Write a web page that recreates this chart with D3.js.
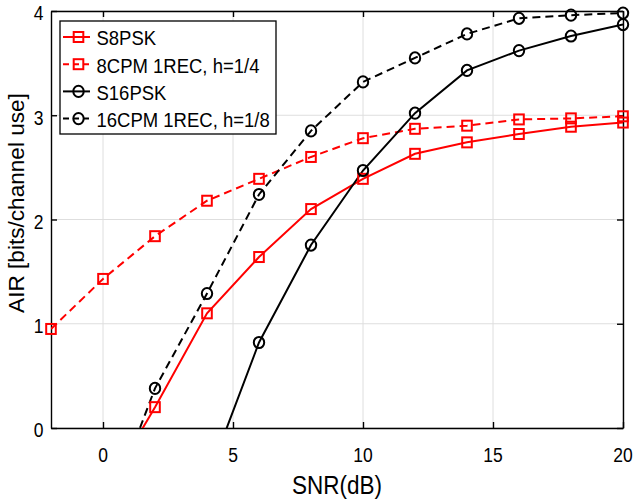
<!DOCTYPE html>
<html><head><meta charset="utf-8">
<script src="https://cdn.jsdelivr.net/npm/d3@7"></script>
<style>body{margin:0;background:#fff}svg{display:block}text{font-family:"Liberation Sans",Arial,sans-serif}</style>
</head><body>
<script>
const snrS8 = [0, 2, 4, 6, 8, 10, 12, 14, 16, 18, 20];
const airS8PSK = [-0.65, 0.20, 1.10, 1.64, 2.10, 2.39, 2.63, 2.74, 2.82, 2.89, 2.93];
const snrCPM8 = [-2, 0, 2, 4, 6, 8, 10, 12, 14, 16, 18, 20];
const airCPM8 = [0.95, 1.43, 1.84, 2.18, 2.39, 2.60, 2.78, 2.87, 2.90, 2.96, 2.97, 2.99];
const snrS16 = [4, 6, 8, 10, 12, 14, 16, 18, 20];
const airS16PSK = [-0.50, 0.82, 1.755, 2.47, 3.02, 3.43, 3.62, 3.76, 3.87];
const snrCPM16 = [0, 2, 4, 6, 8, 10, 12, 14, 16, 18, 20];
const airCPM16 = [-0.93, 0.38, 1.29, 2.24, 2.85, 3.32, 3.55, 3.78, 3.93, 3.96, 3.98];
const seriesNames = ["S8PSK", "8CPM 1REC, h=1/4", "S16PSK", "16CPM 1REC, h=1/8"];
const xTicks = [0, 5, 10, 15, 20];
const yTicks = [0, 1, 2, 3, 4];

const W = 635, H = 502;
const m = {left: 51, right: 12, top: 11, bottom: 74};
const svg = d3.select("body").append("svg").attr("width", W).attr("height", H);
const x = d3.scaleLinear().domain([-2, 20]).range([m.left, W - m.right]);
const y = d3.scaleLinear().domain([0, 4]).range([H - m.bottom, m.top]);

function stxt(g, tx, ty, str, size, anchor, sy, rot) {
  return g.append("text")
    .attr("transform", `translate(${tx},${ty})${rot ? ` rotate(${rot})` : ""} scale(1,${sy})`)
    .attr("text-anchor", anchor).attr("font-size", size).attr("fill", "#000").text(str);
}

svg.append("defs").append("clipPath").attr("id", "clip")
  .append("rect").attr("x", m.left).attr("y", m.top)
  .attr("width", x.range()[1] - m.left).attr("height", y(0) - m.top);

// grid
const grid = svg.append("g");
grid.selectAll("line.gx").data(xTicks).join("line")
  .attr("x1", d => x(d)).attr("x2", d => x(d)).attr("y1", y(0)).attr("y2", y(4))
  .attr("stroke", "#dedede").attr("stroke-width", 1);
grid.selectAll("line.gy").data(yTicks).join("line")
  .attr("y1", d => y(d)).attr("y2", d => y(d)).attr("x1", x(-2)).attr("x2", x(20))
  .attr("stroke", "#dedede").attr("stroke-width", 1);

// axes (inward ticks on all four sides)
const tickLen = 6;
const xb = svg.append("g").attr("transform", `translate(0,${y(0)})`)
  .call(d3.axisBottom(x).tickValues(xTicks).tickSizeInner(-tickLen).tickSizeOuter(0).tickFormat(""));
const xt = svg.append("g").attr("transform", `translate(0,${y(4)})`)
  .call(d3.axisTop(x).tickValues(xTicks).tickSizeInner(-tickLen).tickSizeOuter(0).tickFormat(""));
const yl = svg.append("g").attr("transform", `translate(${x(-2)},0)`)
  .call(d3.axisLeft(y).tickValues(yTicks).tickSizeInner(-tickLen).tickSizeOuter(0).tickFormat(""));
const yr = svg.append("g").attr("transform", `translate(${x(20)},0)`)
  .call(d3.axisRight(y).tickValues(yTicks).tickSizeInner(-tickLen).tickSizeOuter(0).tickFormat(""));
[xb, xt, yl, yr].forEach(g => {
  g.selectAll("path.domain").attr("stroke", "#000").attr("stroke-width", 1.4);
  g.selectAll(".tick line").attr("stroke", "#000").attr("stroke-width", 1.4);
});
const labels = svg.append("g");
xTicks.forEach(t => stxt(labels, x(t), y(0) + 33.7, d3.format("d")(t), 17.5, "middle", 1.17));
yTicks.forEach(t => stxt(labels, x(-2) - 7.5, y(t) + 9.3, d3.format("d")(t), 17.5, "end", 1.17));

const series = [
  {xs: snrS8, ys: airS8PSK, color: "#ff0000", dash: null, marker: "square"},
  {xs: snrCPM8, ys: airCPM8, color: "#ff0000", dash: "8,5", marker: "square"},
  {xs: snrS16, ys: airS16PSK, color: "#000000", dash: null, marker: "circle"},
  {xs: snrCPM16, ys: airCPM16, color: "#000000", dash: "8,5", marker: "circle"}
];
const line = d3.line().x(d => x(d[0])).y(d => y(d[1]));
const plot = svg.append("g").attr("clip-path", "url(#clip)");
function drawMarker(g, type, cx, cy, color) {
  if (type === "square") {
    g.append("rect").attr("x", cx - 4.8).attr("y", cy - 5).attr("width", 9.6).attr("height", 10)
      .attr("fill", "none").attr("stroke", color).attr("stroke-width", 2);
  } else {
    g.append("ellipse").attr("cx", cx).attr("cy", cy).attr("rx", 5.2).attr("ry", 5.6)
      .attr("fill", "none").attr("stroke", color).attr("stroke-width", 2);
  }
}
series.forEach(s => {
  const pts = s.xs.map((v, i) => [v, s.ys[i]]);
  plot.append("path").attr("d", line(pts)).attr("fill", "none").attr("stroke", s.color)
    .attr("stroke-width", 2).attr("stroke-dasharray", s.dash);
  const mg = svg.append("g");
  pts.filter(p => p[1] >= 0).forEach(p => drawMarker(mg, s.marker, x(p[0]), y(p[1]), s.color));
});

// legend
const lg = svg.append("g");
lg.append("rect").attr("x", 60).attr("y", 21).attr("width", 216).attr("height", 113)
  .attr("fill", "#fff").attr("stroke", "#000").attr("stroke-width", 1.3);
series.forEach((s, i) => {
  const cy = 37 + i * 27.2;
  lg.append("line").attr("x1", 63).attr("x2", 90).attr("y1", cy).attr("y2", cy)
    .attr("stroke", s.color).attr("stroke-width", 2).attr("stroke-dasharray", s.dash ? "6,4" : null);
  drawMarker(lg, s.marker, 78.5, cy, s.color);
  stxt(lg, 96.5, cy + 8.3, seriesNames[i], 18.5, "start", 1.08);
});

// axis labels
stxt(svg, (x(-2) + x(20)) / 2, 494, "SNR(dB)", 22.5, "middle", 1.17);
stxt(svg, 23.5, 203, "AIR [bits/channel use]", 22.6, "middle", 1.0, -90);
</script>
</body></html>
